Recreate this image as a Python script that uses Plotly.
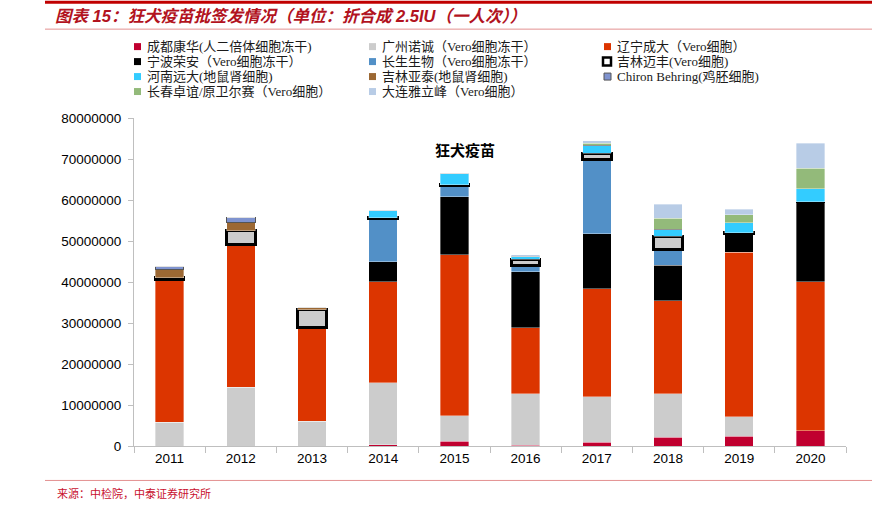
import plotly.graph_objects as go

# 年份
years = ['2011', '2012', '2013', '2014', '2015', '2016', '2017', '2018', '2019', '2020']

# 各企业批签发量（百万人份，读图估算）
chengdu_kanghua = [0, 0, 0, 0.3, 1.2, 0.2, 0.9, 2.1, 2.4, 3.7]
guangzhou_nuocheng = [5.8, 14.3, 6.0, 15.1, 6.2, 12.6, 11.1, 10.6, 4.7, 0]
liaoning_chengda = [34.7, 34.8, 23.0, 24.7, 39.2, 16.0, 26.4, 22.7, 40.2, 36.4]
ningbo_rongan = [0, 0, 0, 4.8, 14.2, 13.7, 13.4, 8.7, 4.5, 19.5]
changsheng = [0, 0, 0, 10.6, 2.7, 1.6, 18.0, 3.9, 0, 0]
jilin_maifeng = [0.5, 3.4, 4.2, 0.2, 0.2, 1.4, 1.6, 3.1, 0.2, 0]
henan_yuanda = [0, 0, 0, 1.7, 2.7, 0.8, 2.0, 1.8, 2.5, 3.1]
jilin_yatai = [2.1, 2.0, 0.6, 0, 0, 0, 0, 0, 0, 0]
chiron = [0.7, 1.3, 0, 0, 0, 0, 0, 0, 0, 0]
changchun_zhuoyi = [0, 0, 0, 0, 0, 0, 0.4, 2.7, 1.9, 5.0]
dalian_yalifeng = [0, 0, 0, 0, 0, 0.4, 0.6, 3.4, 1.4, 6.1]

series = [
    ('成都康华(人二倍体细胞冻干)', chengdu_kanghua, '#C0002F'),
    ('广州诺诚（Vero细胞冻干）', guangzhou_nuocheng, '#CCCCCC'),
    ('辽宁成大（Vero细胞）', liaoning_chengda, '#DC3500'),
    ('宁波荣安（Vero细胞冻干）', ningbo_rongan, '#000000'),
    ('长生生物（Vero细胞冻干）', changsheng, '#5290C7'),
    ('吉林迈丰(Vero细胞)', jilin_maifeng, '#CCCCCC'),
    ('河南远大(地鼠肾细胞)', henan_yuanda, '#33CCFF'),
    ('吉林亚泰(地鼠肾细胞)', jilin_yatai, '#9C6833'),
    ('Chiron Behring(鸡胚细胞)', chiron, '#7F93CF'),
    ('长春卓谊/原卫尔赛（Vero细胞）', changchun_zhuoyi, '#93BA7A'),
    ('大连雅立峰（Vero细胞）', dalian_yalifeng, '#B8CCE6'),
]

# 画布尺寸与边距（像素）
W, H = 872, 507
L, R, T, B = 134, 26, 118, 60.5
PW, PH = W - L - R, H - T - B


def px2x(px):
    return (px - L) / PW


def py2y(py):
    return (H - B - py) / PH


fig = go.Figure()

for name, vals, color in series:
    if name.startswith('吉林迈丰'):
        line = dict(color='#000000', width=3)
    elif name.startswith('Chiron'):
        line = dict(color='#555555', width=1)
    else:
        line = dict(color='rgba(255,255,255,0.6)', width=0.6)
    fig.add_trace(go.Bar(
        x=years,
        y=[v * 1e6 for v in vals],
        name=name,
        marker=dict(color=color, line=line),
        showlegend=False,
    ))

# 自定义图例（4行3列）
col_x = [134, 369, 604]
row_y = [46.5, 61.5, 76.5, 91.5]
shapes = []
annotations = []
for i, (name, vals, color) in enumerate(series):
    cx = col_x[i % 3]
    cy = row_y[i // 3]
    if name.startswith('吉林迈丰'):
        shapes.append(dict(type='rect', xref='paper', yref='paper',
                           x0=px2x(cx - 1), x1=px2x(cx + 7), y0=py2y(cy + 4), y1=py2y(cy - 4),
                           fillcolor='#FFFFFF', line=dict(color='#000000', width=2.5)))
    elif name.startswith('Chiron'):
        shapes.append(dict(type='rect', xref='paper', yref='paper',
                           x0=px2x(cx), x1=px2x(cx + 7), y0=py2y(cy + 3.5), y1=py2y(cy - 3.5),
                           fillcolor=color, line=dict(color='#555555', width=1)))
    else:
        shapes.append(dict(type='rect', xref='paper', yref='paper',
                           x0=px2x(cx), x1=px2x(cx + 7), y0=py2y(cy + 3.5), y1=py2y(cy - 3.5),
                           fillcolor=color, line=dict(width=0)))
    annotations.append(dict(
        x=px2x(cx + 11), y=py2y(cy), xref='paper', yref='paper',
        text=name, showarrow=False, xanchor='left', yanchor='middle',
        font=dict(family='Liberation Serif, Noto Sans CJK SC', size=13, color='#1a1a1a'),
    ))

# 顶部与底部装饰线
shapes.append(dict(type='line', xref='paper', yref='paper', x0=px2x(45), x1=px2x(872),
                   y0=py2y(2), y1=py2y(2), line=dict(color='#C00000', width=3)))
shapes.append(dict(type='line', xref='paper', yref='paper', x0=px2x(45), x1=px2x(872),
                   y0=py2y(29), y1=py2y(29), line=dict(color='#E39090', width=1)))
shapes.append(dict(type='line', xref='paper', yref='paper', x0=px2x(45), x1=px2x(872),
                   y0=py2y(481), y1=py2y(481), line=dict(color='#E39090', width=1)))

annotations.append(dict(
    x=px2x(465), y=py2y(137), xref='paper', yref='paper', text='<b>狂犬疫苗</b>',
    showarrow=False, font=dict(family='Noto Sans CJK SC', size=15, color='#000000'),
))
annotations.append(dict(
    x=px2x(55), y=py2y(494), xref='paper', yref='paper', text='来源：中检院，中泰证券研究所',
    showarrow=False, xanchor='left', yanchor='middle',
    font=dict(family='Noto Sans CJK SC', size=11, color='#C8102E'),
))

fig.update_layout(
    barmode='stack',
    bargap=0.6,
    width=W, height=H,
    margin=dict(l=L, r=R, t=T, b=B),
    plot_bgcolor='white', paper_bgcolor='white',
    font=dict(family='Liberation Sans, Noto Sans CJK SC', size=13, color='#000000'),
    title=dict(
        text='<b><i>图表 15：狂犬疫苗批签发情况（单位：折合成 2.5IU（一人次））</i></b>',
        xref='container', yref='container', x=55 / W, y=1 - 16 / H,
        xanchor='left', yanchor='middle',
        font=dict(family='Liberation Sans, Noto Sans CJK SC', size=16.5, color='#B2131E'),
    ),
    shapes=shapes,
    annotations=annotations,
    xaxis=dict(
        type='category', showgrid=False, showline=True, linecolor='#BFBFBF',
        ticks='outside', tickson='boundaries', ticklen=6, tickcolor='#BFBFBF',
        tickfont=dict(size=13.5),
    ),
    yaxis=dict(
        range=[0, 80e6], dtick=10e6, tickformat='d', showgrid=False, zeroline=False,
        showline=True, linecolor='#BFBFBF', ticks='outside', ticklen=5, tickcolor='#BFBFBF',
        tickfont=dict(size=13.5), ticklabelstandoff=4,
    ),
)

# 去掉页面默认边距，使图与窗口左上角对齐
fig.write_html("out.html", config={'displayModeBar': False},
               post_script="document.body.style.margin='0';")
